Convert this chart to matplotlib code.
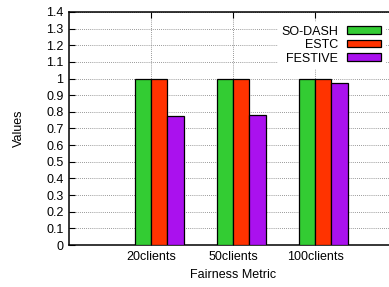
import numpy as np
import matplotlib
matplotlib.use("Agg")
import matplotlib.pyplot as plt
from matplotlib.ticker import FormatStrFormatter, MultipleLocator

categories = ["20clients", "50clients", "100clients"]
so_dash = [0.995, 0.995, 1.0]
estc = [0.995, 0.995, 1.0]
festive = [0.775, 0.78, 0.975]

series = [("SO-DASH", so_dash, "#33cc33"),
          ("ESTC", estc, "#ff3300"),
          ("FESTIVE", festive, "#aa11ee")]

plt.rcParams['font.family'] = ['Liberation Sans', 'DejaVu Sans']
plt.rcParams['font.size'] = 9

fig = plt.figure(figsize=(3.89, 2.87), dpi=100)
# axes run slightly past the right edge, like the cropped original
ax = fig.add_axes([69 / 389, 42 / 287, 328 / 389, 233 / 287])

x = np.arange(1, len(categories) + 1)
width = 0.2
offsets = [-0.1, 0.1, 0.3]
for (name, vals, col), off in zip(series, offsets):
    ax.bar(x + off, vals, width, color=col, edgecolor="black",
           linewidth=0.9, label=name, zorder=3)

ax.set_xlim(0, 4)
ax.set_ylim(0, 1.4)
ax.set_xticks(x)
ax.set_xticklabels(categories)
ax.yaxis.set_major_locator(MultipleLocator(0.1))
ax.yaxis.set_major_formatter(FormatStrFormatter('%g'))
ax.tick_params(direction="in", top=True, right=True, length=4, width=0.8, pad=4)
ax.grid(True, linestyle=(0, (1, 1.5)), color="#777777", linewidth=0.6, zorder=0)

for s in ax.spines.values():
    s.set_linewidth(1.1)

ax.set_xlabel("Fairness Metric", labelpad=5)
ax.set_ylabel("Values", labelpad=15)

leg = ax.legend(loc="upper right", bbox_to_anchor=(0.962, 0.958),
                borderaxespad=0, markerfirst=False, frameon=True, fancybox=False,
                handlelength=2.7, handleheight=0.55, handletextpad=0.7,
                labelspacing=0.12, borderpad=0.3)
leg.get_frame().set_edgecolor("white")
leg.get_frame().set_alpha(1)
for t in leg.get_texts():
    t.set_ha("right")

fig.savefig("out.png", dpi=100)
